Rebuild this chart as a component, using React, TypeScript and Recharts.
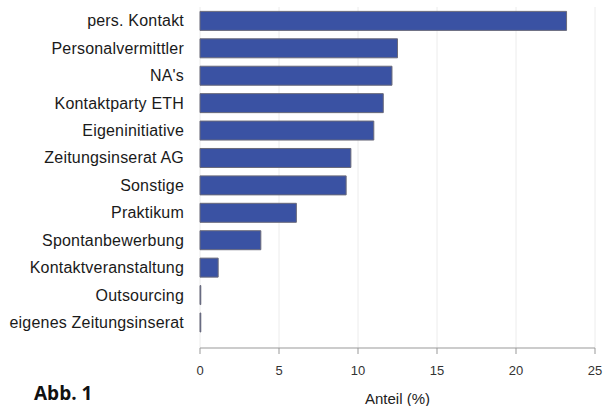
import React from 'react';
import { BarChart, Bar, XAxis, YAxis, CartesianGrid } from 'recharts';

const categories = [
  'pers. Kontakt',
  'Personalvermittler',
  "NA's",
  'Kontaktparty ETH',
  'Eigeninitiative',
  'Zeitungsinserat AG',
  'Sonstige',
  'Praktikum',
  'Spontanbewerbung',
  'Kontaktveranstaltung',
  'Outsourcing',
  'eigenes Zeitungsinserat',
];
const shares = [23.2, 12.5, 12.15, 11.6, 11.0, 9.55, 9.25, 6.1, 3.85, 1.15, 0.05, 0.05];
const xTicks = [0, 5, 10, 15, 20, 25];

const data = categories.map((name, i) => ({ name, value: shares[i] }));

const FONT = 'Liberation Sans, Arial, sans-serif';

export default function App() {
  return (
    <div style={{ position: 'absolute', left: 0, top: 0, width: 604, height: 406, background: '#fff' }}>
      <BarChart
        width={604}
        height={406}
        data={data}
        layout="vertical"
        margin={{ top: 7, right: 9, bottom: 0, left: 0 }}
        barCategoryGap="16%"
      >
        <CartesianGrid horizontal={false} stroke="#ececec" />
        <XAxis
          type="number"
          domain={[0, 25]}
          ticks={xTicks}
          height={58}
          tickSize={6}
          tickMargin={12}
          axisLine={{ stroke: '#999' }}
          tickLine={{ stroke: '#999' }}
          tick={{ fill: '#333', fontSize: 13, fontFamily: FONT }}
          label={{ value: 'Anteil (%)', position: 'insideBottom', offset: 2, fill: '#222', fontSize: 15, fontFamily: FONT }}
        />
        <YAxis
          type="category"
          dataKey="name"
          width={200}
          axisLine={false}
          tickLine={false}
          tickSize={14}
          tickMargin={2}
          padding={{ top: 0, bottom: 12 }}
          interval={0}
          tick={{ fill: '#1a1a1a', fontSize: 16, fontFamily: FONT, letterSpacing: 0.2 }}
        />
        <Bar dataKey="value" fill="#3a52a3" stroke="#6a6a7a" strokeWidth={1} isAnimationActive={false} />
      </BarChart>
      <div
        style={{
          position: 'absolute',
          left: 34,
          top: 380,
          fontFamily: 'Open Sans, sans-serif',
          fontWeight: 700,
          fontSize: 19,
          color: '#111',
        }}
      >
        Abb. 1
      </div>
    </div>
  );
}
